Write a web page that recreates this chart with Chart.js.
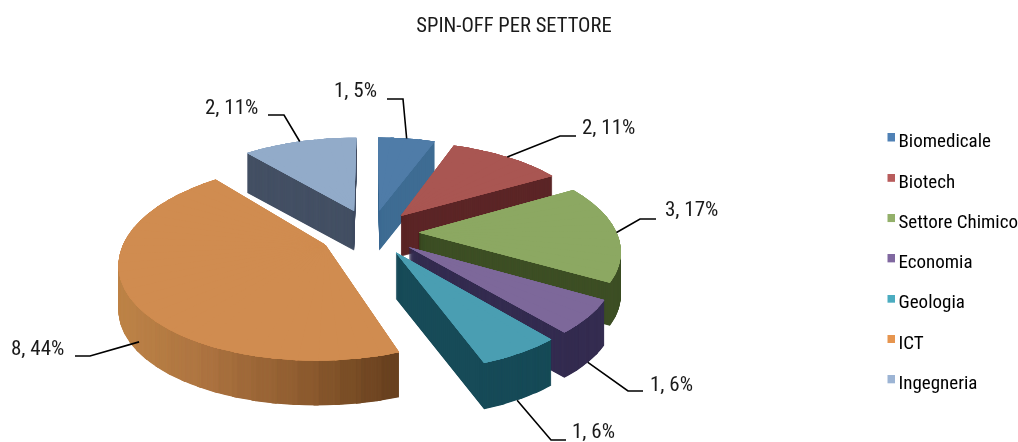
<!DOCTYPE html>
<html><head><meta charset="utf-8">
<style>html,body{margin:0;padding:0;background:#fff}canvas{display:block}</style>
<script src="https://cdn.jsdelivr.net/npm/chart.js@4"></script>
</head><body><canvas id="c" width="1018" height="442"></canvas>
<script>
const categories = ['Biomedicale','Biotech','Settore Chimico','Economia','Geologia','ICT','Ingegneria'];
const values = [1,2,3,1,1,8,2];
const percents = [5,11,17,6,6,44,11];
const explode = [0.25,0.24,0.24,0.24,0.24,0.26,0.26];
const topColors = ['#4f7ca8','#a95652','#8ca862','#7d689a','#4a9eb2','#d08c50','#92abc9'];
const sideColors = ['#3e6c93','#5c2627','#3d4f25','#342c50','#174b58',null,'#445064'];
const legendColors = ['#4f81b5','#b85c5c','#93b06a','#8068a0','#4bacc0','#e6954f','#9cb4d4'];
const ictSideStops = [[120,[189,131,71]],[200,[174,117,66]],[300,[143,93,48]],[400,[101,63,30]]];
const FONT = '"Roboto Condensed","Roboto",sans-serif';
const leaderFrac = [0.5,0.5,0.5,0.5,0.55,0.46,0.5];
const leaderDepth = [0,0,0,1,1,0.75,0];
const elbows = [[403,99],[560,136],[640,219],[628,391],[551,440],[90,356],[284,115]];
const stubEnds = [[387,99],[576,136],[656,219],[643,391],[566,440],[75,356],[268,115]];
const textAt = [[334,92],[582,129],[665,211],[650,386],[572,433],[11,350],[205,109]];

const view = {cx:371, cy:232.5, A:198, B:92, f:6, depth:43};
function proj(x,y){const k=view.f/(view.f-y);return [view.cx+x*view.A*k, view.cy+y*view.B*k, k];}
function ictColor(X){
  const s=ictSideStops;
  if(X<=s[0][0])return 'rgb('+s[0][1]+')';
  for(let i=1;i<s.length;i++){ if(X<=s[i][0]){const t=(X-s[i-1][0])/(s[i][0]-s[i-1][0]);
    return 'rgb('+s[i][1].map((v,j)=>Math.round(s[i-1][1][j]+(v-s[i-1][1][j])*t))+')';}}
  return 'rgb('+s[s.length-1][1]+')';
}
const STEP=Math.PI/36, OVER=Math.PI/300;

const pie3d = {
  id:'pie3d',
  beforeDatasetsDraw(chart){
    const ctx=chart.ctx, meta=chart.getDatasetMeta(0);
    const items=meta.data.map((el,i)=>({el,i,mid:(el.startAngle+el.endAngle)/2}));
    items.sort((a,b)=>Math.sin(a.mid)-Math.sin(b.mid));
    for(const it of items){
      const {el,i,mid}=it, R=el.outerRadius, S=el.startAngle, E=el.endAngle, C=el.circumference;
      const ox=explode[i]*Math.cos(mid), oy=explode[i]*Math.sin(mid);
      const p=proj(ox,oy);
      const n=Math.max(1,Math.round((E-S)/STEP));
      const subs=[];
      for(let j=0;j<n;j++){
        const a0=S+(E-S)*j/n,a1=S+(E-S)*(j+1)/n;
        const p0=proj(ox+Math.cos(a0),oy+Math.sin(a0)), p1=proj(ox+Math.cos(a1),oy+Math.sin(a1));
        const ux=R*Math.cos(a0),uy=R*Math.sin(a0),wx=R*Math.cos(a1),wy=R*Math.sin(a1);
        const vx=p0[0]-p[0],vy=p0[1]-p[1],zx=p1[0]-p[0],zy=p1[1]-p[1];
        const det=ux*wy-uy*wx;
        const a=(vx*wy-zx*uy)/det,c=(zx*ux-vx*wx)/det,b=(vy*wy-zy*uy)/det,d=(zy*ux-vy*wx)/det;
        subs.push({a0:j?a0-OVER:a0,a1:j<n-1?a1+OVER:a1,m:[a,b,c,d,p[0]-a*el.x-c*el.y,p[1]-b*el.x-d*el.y],X:(p0[0]+p1[0])/2});
      }
      const saved=el.options;
      const drawSub=(s,dy,color)=>{
        el.startAngle=s.a0;el.endAngle=s.a1;el.circumference=s.a1-s.a0;
        el.options=Object.assign({},saved,{backgroundColor:color,borderWidth:0});
        ctx.save();ctx.translate(0,dy);ctx.transform(...s.m);el.draw(ctx);ctx.restore();
      };
      const depth=view.depth*p[2]*p[2];
      for(let dy=depth;dy>0;dy-=0.5){
        for(const s of subs) drawSub(s,dy,sideColors[i]||ictColor(s.X));
      }
      for(let pass=0;pass<4;pass++) for(const s of subs) drawSub(s,0,topColors[i]);
      el.startAngle=S;el.endAngle=E;el.circumference=C;el.options=saved;
      const t=S+(E-S)*leaderFrac[i];
      const q=proj(ox+Math.cos(t),oy+Math.sin(t));
      it.anchor=[q[0],q[1]+depth*leaderDepth[i]];
    }
    ctx.save();
    ctx.strokeStyle='#000';ctx.lineWidth=1.6;ctx.fillStyle='#1a1a1a';
    ctx.font='21px '+FONT;ctx.textBaseline='middle';ctx.textAlign='left';
    for(const it of items){
      const i=it.i;
      ctx.beginPath();ctx.moveTo(it.anchor[0],it.anchor[1]);
      ctx.lineTo(elbows[i][0],elbows[i][1]);ctx.lineTo(stubEnds[i][0],stubEnds[i][1]);ctx.stroke();
      ctx.fillText(values[i]+', '+percents[i]+'%',textAt[i][0],textAt[i][1]);
    }
    ctx.restore();
    return false;
  }
};

function swatch(color){
  const cv=document.createElement('canvas');cv.width=14;cv.height=18;
  const g=cv.getContext('2d');g.fillStyle=color;g.fillRect(6,0,8,8);
  return cv;
}

new Chart(document.getElementById('c'),{
  type:'pie',
  data:{labels:categories,datasets:[{data:values,backgroundColor:topColors,borderWidth:0}]},
  plugins:[pie3d],
  options:{
    responsive:false,animation:false,
    layout:{padding:{right:-10}},
    plugins:{
      tooltip:{enabled:false},
      title:{display:true,text:'SPIN-OFF PER SETTORE',color:'#1a1a1a',font:{family:FONT,size:20.6,weight:'normal'},padding:{top:14,bottom:46}},
      legend:{position:'right',align:'center',fullSize:false,labels:{
        boxWidth:1,boxHeight:8,padding:21.3,usePointStyle:true,color:'#1a1a1a',font:{family:FONT,size:19},
        generateLabels(chart){return categories.map((t,i)=>({text:t,pointStyle:swatch(legendColors[i]),fillStyle:legendColors[i],strokeStyle:legendColors[i],lineWidth:0,index:i}));}
      }}
    }
  }
});
</script></body></html>
